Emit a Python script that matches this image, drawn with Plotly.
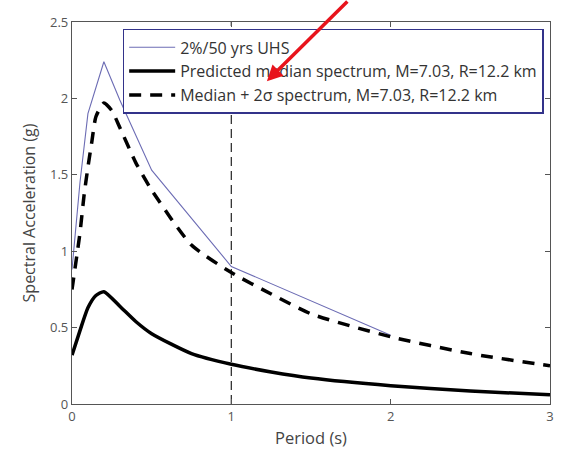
import plotly.graph_objects as go

# UHS (2%/50 yrs)
uhs_T = [0.0, 0.05, 0.1, 0.2, 0.3, 0.5, 1.0, 2.0]
uhs_SA = [0.88, 1.45, 1.90, 2.24, 1.99, 1.53, 0.90, 0.45]

# Predicted median spectrum
med_T = [0.0, 0.05, 0.1, 0.15, 0.2, 0.3, 0.4, 0.5, 0.75, 1.0, 1.25, 1.5, 2.0, 2.5, 3.0]
med_SA = [0.32, 0.48, 0.63, 0.71, 0.735, 0.64, 0.54, 0.46, 0.33, 0.26, 0.21, 0.17, 0.12, 0.085, 0.06]

# Median + 2 sigma spectrum
p2s_T = [0.0, 0.05, 0.075, 0.1, 0.125, 0.15, 0.2, 0.25, 0.3, 0.4, 0.5, 0.75, 1.0, 1.25, 1.5, 2.0, 2.5, 3.0]
p2s_SA = [0.75, 1.12, 1.36, 1.55, 1.72, 1.88, 1.97, 1.92, 1.81, 1.58, 1.40, 1.04, 0.86, 0.72, 0.59, 0.44, 0.33, 0.25]

vline_T = [1.0, 1.0]
vline_SA = [0.0, 2.5]

x_ticks = [0, 1, 2, 3]
y_ticks = [0, 0.5, 1, 1.5, 2, 2.5]
y_tick_text = ["0", "0.5", "1", "1.5", "2", "2.5"]

font_family = "Open Sans, Noto Sans, sans-serif"

fig = go.Figure()
fig.add_trace(go.Scatter(x=vline_T, y=vline_SA, mode="lines", showlegend=False,
                         line=dict(color="#333333", width=1.3, dash="9px,5px"), hoverinfo="skip"))
fig.add_trace(go.Scatter(x=uhs_T, y=uhs_SA, mode="lines", name="2%/50 yrs UHS",
                         line=dict(color="#6c6cb4", width=1.1)))
fig.add_trace(go.Scatter(x=med_T, y=med_SA, mode="lines", name="Predicted median spectrum, M=7.03, R=12.2 km",
                         line=dict(color="#000000", width=3.5, shape="spline", smoothing=0.6)))
fig.add_trace(go.Scatter(x=p2s_T, y=p2s_SA, mode="lines", name="Median + 2σ spectrum, M=7.03, R=12.2 km",
                         line=dict(color="#000000", width=3.5, dash="12px,9px", shape="spline", smoothing=0.6)))

axis_common = dict(showline=True, linecolor="#555555", linewidth=1.2, mirror="ticks",
                   ticks="inside", ticklen=5, tickcolor="#555555", showgrid=False, zeroline=False,
                   tickfont=dict(size=13, color="#555555", family=font_family))

fig.update_xaxes(range=[0, 3], tickvals=x_ticks,
                 title=dict(text="Period (s)", font=dict(size=16.5, color="#444444", family=font_family), standoff=8),
                 **axis_common)
fig.update_yaxes(range=[0, 2.5], tickvals=y_ticks, ticktext=y_tick_text,
                 title=dict(text="Spectral Acceleration (g)", font=dict(size=16, color="#444444", family=font_family), standoff=10),
                 **axis_common)

fig.add_annotation(x=1.223, y=2.113, xref="x", yref="y", text="", showarrow=True,
                   arrowhead=2, arrowsize=0.9, arrowwidth=3.5, arrowcolor="#e8141c",
                   ax=82, ay=-90)

fig.update_layout(
    width=566, height=461,
    margin=dict(l=72, r=13, t=22, b=57),
    paper_bgcolor="white", plot_bgcolor="white",
    font=dict(family=font_family, color="#333333"),
    legend=dict(x=0.106, y=0.982, xanchor="left", yanchor="top",
                bgcolor="white", bordercolor="#33338a", borderwidth=1.5,
                font=dict(size=16, color="#333333", family=font_family),
                tracegroupgap=0, itemwidth=46),
)

fig.write_html("out.html")
